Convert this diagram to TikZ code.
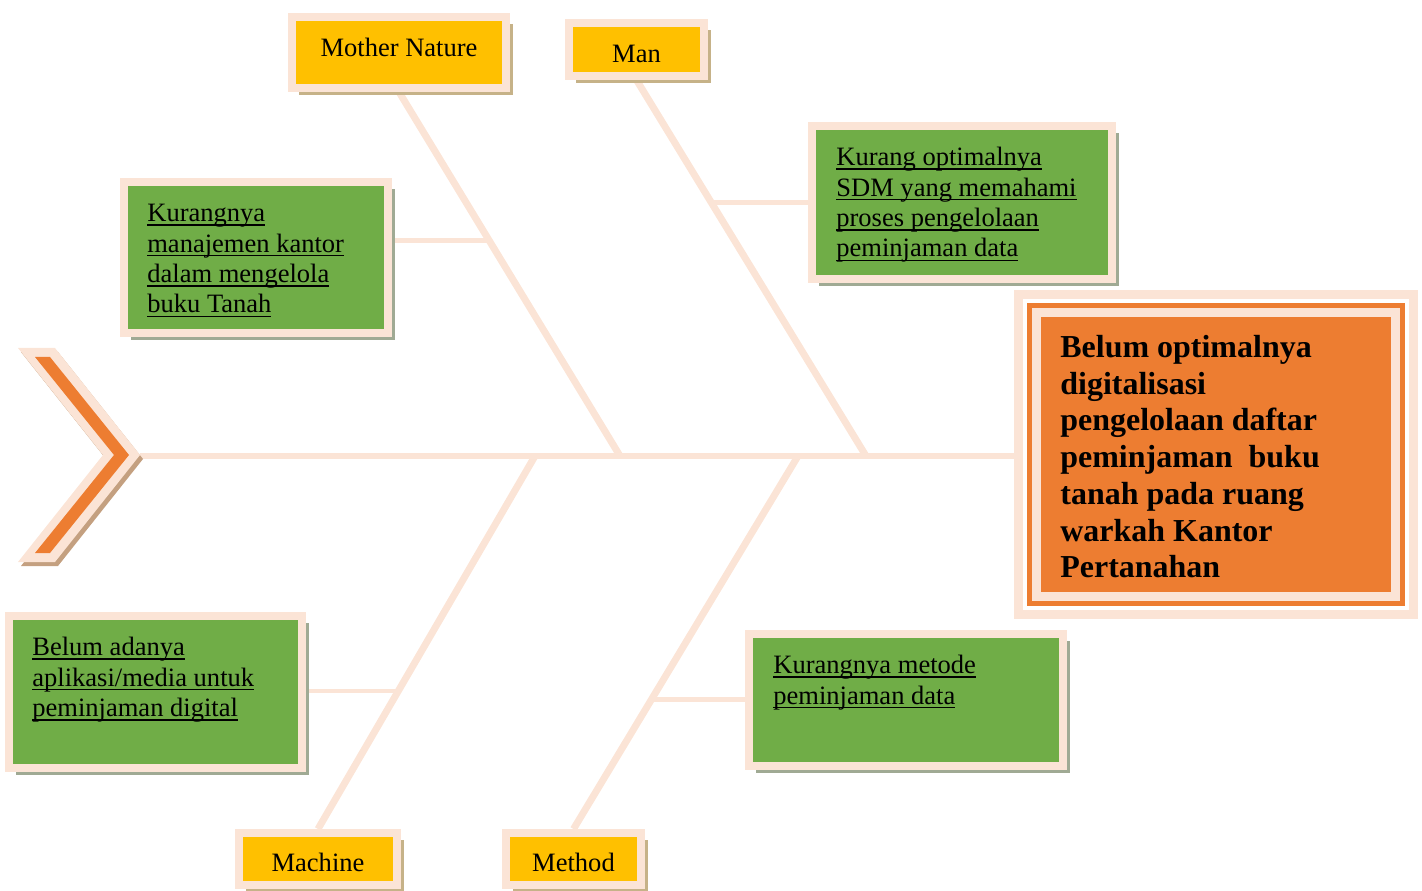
\documentclass[tikz,border=0pt]{standalone}
\usepackage{fontspec}
\setmainfont{Liberation Serif}
\usetikzlibrary{calc,shadows,backgrounds}

\definecolor{peach}{RGB}{251,228,214}
\definecolor{leaf}{RGB}{112,173,71}
\definecolor{gold}{RGB}{255,192,0}
\definecolor{rust}{RGB}{237,125,49}
\definecolor{sage}{RGB}{160,170,148}
\definecolor{shadowtan}{RGB}{198,178,136}
\definecolor{chevtan}{RGB}{196,160,128}

% underlined line of text
\newcommand{\undr}[1]{\leavevmode\setbox0=\hbox{#1}\rlap{\vrule width\wd0 height -1.5pt depth 2.4pt}\box0}
% label text moved up or down inside its box
\newcommand{\lift}[2]{\raisebox{#1}[\height][\depth]{#2}}

\begin{document}
\begin{tikzpicture}[x=0.02cm,y=-0.02cm,
    cause/.style={draw=peach,line width=0.16cm,fill=leaf,inner sep=0pt,
        drop shadow={shadow xshift=0.14cm,shadow yshift=-0.14cm,fill=sage,opacity=1}},
    catbox/.style={draw=peach,line width=0.16cm,fill=gold,inner sep=0pt,
        font=\fontsize{15.1}{17.3}\selectfont,
        drop shadow={shadow xshift=0.14cm,shadow yshift=-0.14cm,fill=shadowtan,opacity=1}},
    note/.style={anchor=north west,align=left,inner sep=0pt,font=\fontsize{15.1}{17.3}\selectfont},
    effect/.style={draw=peach,line width=0.18cm,fill=rust,inner sep=0pt,outer sep=0pt},
    spine/.style={peach,line width=0.12cm},
    bone/.style={peach,line width=0.14cm},
    twig/.style={peach,line width=0.10cm}]
    \useasboundingbox (0,0) rectangle (1422,891);

    % Draw the head (problem box)
    \node[effect,minimum width=7.18cm,minimum height=5.68cm] (eff) at (1216,454.5) {};
    \node[anchor=north west,align=left,inner sep=0pt,font=\bfseries\fontsize{18.2}{20.9}\selectfont] (efft) at (1060,335)
        {Belum optimalnya\\ digitalisasi\\ pengelolaan daftar\\ peminjaman\ \ buku\\ tanah pada ruang\\ warkah Kantor\\ Pertanahan};
    \draw[rust,line width=0.10cm] ([shift={(-7,-7)}]eff.north west) rectangle ([shift={(7,7)}]eff.south east); % inner frame
    \draw[peach,line width=0.18cm] ([shift={(-18,-18)}]eff.north west) rectangle ([shift={(18,18)}]eff.south east); % outer frame

    % Draw the tail chevron
    \fill[chevtan] (21,352) -- (58,352) -- (143,459) -- (58,566) -- (21,566) -- (106,459) -- cycle;
    \fill[peach] (18,348) -- (55,348) -- (140,455) -- (55,562) -- (18,562) -- (103,455) -- cycle;
    \fill[rust] (35,357) -- (50,357) -- (129,455) -- (50,553) -- (35,553) -- (114,455) -- cycle;
    \coordinate (tail) at (140,456);

    % Draw the categories
    \node[catbox,minimum width=4.28cm,minimum height=1.42cm] (nature) at (399,52.5) {\lift{2.8pt}{Mother Nature}};
    \node[catbox,minimum width=2.70cm,minimum height=1.06cm] (man) at (636.5,49.5) {\lift{-2.6pt}{Man}};
    \node[catbox,minimum width=3.16cm,minimum height=1.04cm] (machine) at (318,859) {\lift{-2.2pt}{Machine}};
    \node[catbox,minimum width=2.70cm,minimum height=1.04cm] (method) at (573.5,859) {\lift{-2.2pt}{Method}};

    % Draw the causes
    \node[cause,minimum width=5.28cm,minimum height=3.02cm] (office) at (256,257.5) {};
    \node[note] (officet) at (147,204) {\undr{Kurangnya}\\ \undr{manajemen kantor}\\ \undr{dalam mengelola}\\ \undr{buku Tanah}};
    \node[cause,minimum width=6.00cm,minimum height=3.06cm] (staff) at (962,202.5) {};
    \node[note] (stafft) at (836,147) {\undr{Kurang optimalnya}\\ \undr{SDM yang memahami}\\ \undr{proses pengelolaan}\\ \undr{peminjaman data}};
    \node[cause,minimum width=5.86cm,minimum height=3.04cm] (app) at (155.5,692) {};
    \node[note] (appt) at (32,637) {\undr{Belum adanya}\\ \undr{aplikasi/media untuk}\\ \undr{peminjaman digital}};
    \node[cause,minimum width=6.28cm,minimum height=2.64cm] (loan) at (906,700) {};
    \node[note] (loant) at (773,655) {\undr{Kurangnya metode}\\ \undr{peminjaman data}};

    % Draw the bones
    \begin{pgfonlayer}{background}
        \path (eff.west |- tail) ++(-18,0) coordinate (head);
        \draw[spine] (tail) -- (head); % spine
        \coordinate (j1) at (620,456);
        \coordinate (j2) at (866,456);
        \coordinate (j3) at (535,456);
        \coordinate (j4) at (798,456);
        \draw[bone] (nature.south) -- (j1);
        \draw[bone] (man.south) -- (j2);
        \draw[bone] (j3) -- (machine.north);
        \draw[bone] (j4) -- (method.north);
        \coordinate (b1) at ($(nature.south)!0.409!(j1)$);
        \coordinate (b2) at ($(man.south)!0.327!(j2)$);
        \coordinate (b3) at ($(j3)!0.63!(machine.north)$);
        \coordinate (b4) at ($(j4)!0.654!(method.north)$);
        \draw[twig] (office.east |- b1) -- (b1);
        \draw[twig] (b2) -- (staff.west |- b2);
        \draw[twig] (app.east |- b3) -- (b3);
        \draw[twig] (b4) -- (loan.west |- b4);
    \end{pgfonlayer}
\end{tikzpicture}
\end{document}
